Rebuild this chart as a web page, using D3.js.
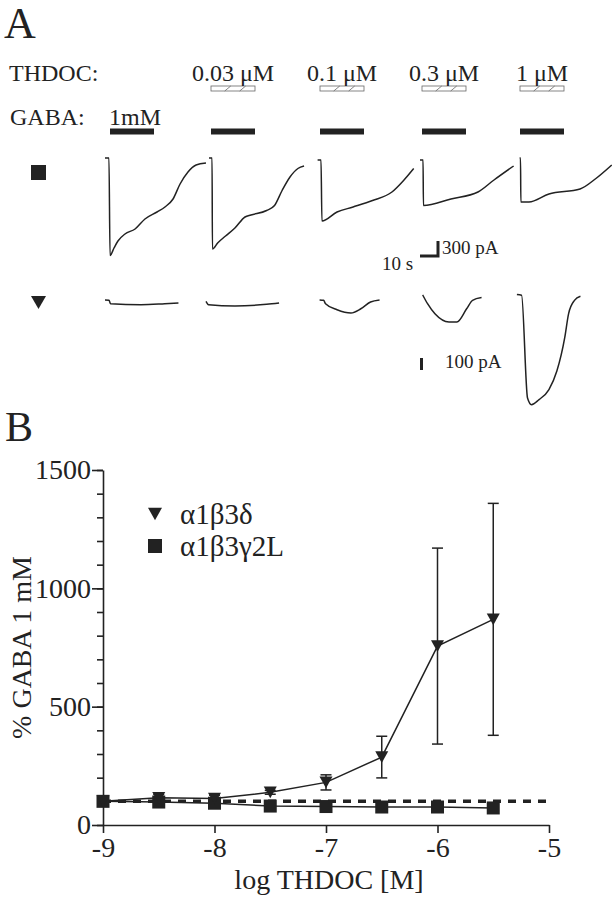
<!DOCTYPE html>
<html>
<head>
<meta charset="utf-8">
<script src="https://cdn.jsdelivr.net/npm/d3@7"></script>
<style>
  html, body { margin: 0; padding: 0; background: #fff; }
  svg { display: block; }
  text { font-family: "Liberation Serif", "Times New Roman", serif; fill: #222; }
  .axis path, .axis line { stroke: #222; stroke-width: 1.6; }
</style>
</head>
<body>
<div id="chart"></div>
<script>
// ---- data: panel A ----
const thdocLabels = ['', '0.03 \u03bcM', '0.1 \u03bcM', '0.3 \u03bcM', '1 \u03bcM'];
const gabaLabel = '1mM';

// square (a1b3g2L) sweeps: [time s, current pA]
const sqTraces = [
  [[0,0],[2.2,0],[2.8,-1950],[5,-1800],[7.2,-1660],[11.1,-1520],[16.7,-1420],[22.2,-1220],[28.9,-1080],[33.3,-980],[37.8,-820],[41.7,-520],[46.1,-280],[50.6,-140],[56.1,-100]],
  [[0,0],[1.7,0],[1.9,-1820],[4.8,-1700],[9.2,-1560],[14.4,-1400],[20,-1180],[23.3,-1140],[32,-1050],[36.4,-950],[40.6,-650],[45,-380],[49.4,-210],[52.8,-160]],
  [[0,-40],[1.9,-40],[2.4,-1260],[10.8,-1080],[19.7,-980],[30.5,-850],[41.3,-680],[48,-440],[53.4,-210]],
  [[0,-40],[1.7,-40],[1.9,-950],[17.2,-820],[32.2,-680],[41.1,-440],[52,-160]],
  [[0,0],[0.5,0],[0.7,-880],[5.2,-880],[16.3,-720],[33.6,-620],[42.4,-410],[51.2,-140]]
];
// triangle (a1b3d) sweeps
const triTraces = [
  [[0,0],[2.2,-2],[3.1,-31],[20,-39],[33.2,-31],[40.8,-25]],
  [[0,-11],[1.4,-39],[16.1,-50],[33.7,-36],[40.6,-25]],
  [[0,0],[2.2,-3],[3.3,-31],[9.7,-81],[17.4,-108],[22.9,-73],[28.3,-17],[33.3,0]],
  [[0,42],[2.7,-31],[6.8,-115],[14.6,-183],[19,-183],[24.4,-73],[27.7,-3],[32.7,20]],
  [[0,45],[2.6,39],[5.9,-817],[8.1,-872],[12.3,-830],[17.8,-746],[22.2,-592],[26.6,-311],[28.7,-115],[32,-3],[35.3,31]]
];

// ---- data: panel B ----
const logConc = [-9, -8.5, -8, -7.5, -7, -6.5, -6, -5.5];
const deltaMean = [100, 115, 112, 138, 180, 287, 756, 869];
const deltaErr = [0, 14, 14, 8, 32, 88, 414, 490];
const gammaMean = [100, 97, 92, 80, 78, 76, 76, 72];
const legendNames = ['\u03b11\u03b23\u03b4', '\u03b11\u03b23\u03b32L'];
const xTicks = [-9, -8, -7, -6, -5];
const yTicks = [0, 500, 1000, 1500];

// ---- layout ----
const W = 612, H = 900;
const svg = d3.select('#chart').append('svg').attr('width', W).attr('height', H);
const ink = '#222';

// Panel A
svg.append('text').attr('x', 4).attr('y', 38).attr('font-size', 44).text('A');
svg.append('text').attr('x', 9).attr('y', 81).attr('font-size', 24).text('THDOC:');
svg.append('text').attr('x', 10).attr('y', 125).attr('font-size', 24).text('GABA:');

const sweepX1 = [105, 209, 317.6, 420, 519.6];
const sweepX2 = [105, 206, 319.6, 422.7, 516.9];
const barX = [110, 211, 320, 422, 520];
const barW = 44;

barX.forEach((bx, i) => {
  // GABA bar
  svg.append('rect').attr('x', bx).attr('y', 128.5).attr('width', barW).attr('height', 6).attr('fill', ink);
  if (i === 0) return;
  // THDOC hatched box
  const hb = svg.append('g').attr('transform', `translate(${bx},86)`);
  hb.append('rect').attr('width', barW).attr('height', 5).attr('fill', '#fff')
    .attr('stroke', '#666').attr('stroke-width', 0.8);
  [0.38, 0.72].forEach(f => {
    hb.append('line').attr('x1', barW * f - 3).attr('y1', 5).attr('x2', barW * f + 3).attr('y2', 0)
      .attr('stroke', '#666').attr('stroke-width', 0.8);
  });
  svg.append('text').attr('x', bx + barW / 2).attr('y', 81).attr('font-size', 24)
    .attr('text-anchor', 'middle').text(thdocLabels[i]);
});
svg.append('text').attr('x', 109).attr('y', 125).attr('font-size', 24).text(gabaLabel);

// trace scales
const tScale = d3.scaleLinear().domain([0, 10]).range([0, 18]);
const iScale1 = d3.scaleLinear().domain([0, -300]).range([0, 15]);
const iScale2 = d3.scaleLinear().domain([0, -100]).range([0, 12]);

function drawRow(traces, xs, baseY, iScale) {
  const line = d3.line().x(d => tScale(d[0])).y(d => iScale(d[1])).curve(d3.curveMonotoneX);
  traces.forEach((tr, i) => {
    svg.append('path').attr('transform', `translate(${xs[i]},${baseY})`)
      .attr('d', line(tr)).attr('fill', 'none').attr('stroke', ink).attr('stroke-width', 1.5);
  });
}
drawRow(sqTraces, sweepX1, 158, iScale1);
drawRow(triTraces, sweepX2, 300, iScale2);

// row markers
svg.append('rect').attr('x', 31).attr('y', 165).attr('width', 15).attr('height', 15).attr('fill', ink);
svg.append('path').attr('d', 'M31,296 L46,296 L38.5,309 Z').attr('fill', ink);

// scale bars
const sb1 = svg.append('g').attr('transform', 'translate(420,256)');
sb1.append('path').attr('d', `M0,0 H${tScale(10)} V${-iScale1(-300)}`)
  .attr('fill', 'none').attr('stroke', ink).attr('stroke-width', 3);
svg.append('text').attr('x', 382).attr('y', 270).attr('font-size', 19).text('10 s');
svg.append('text').attr('x', 442).attr('y', 254).attr('font-size', 19).text('300 pA');

svg.append('line').attr('x1', 421.5).attr('x2', 421.5).attr('y1', 370).attr('y2', 370 - iScale2(-100))
  .attr('stroke', ink).attr('stroke-width', 3);
svg.append('text').attr('x', 445).attr('y', 368).attr('font-size', 19).text('100 pA');

// Panel B
svg.append('text').attr('x', 5).attr('y', 441).attr('font-size', 42).text('B');

const x = d3.scaleLinear().domain([-9, -5]).range([103, 549]);
const y = d3.scaleLinear().domain([0, 1500]).range([825, 470]);

const xAxis = svg.append('g').attr('class', 'axis').attr('transform', `translate(0,${y(0)})`)
  .call(d3.axisBottom(x).tickValues(xTicks).tickSize(8).tickSizeOuter(0).tickFormat(d => String(d)));
xAxis.selectAll('text').attr('font-size', 28).attr('dy', '0.76em');

svg.append('g').attr('class', 'axis').attr('transform', `translate(${x(-9)},0)`)
  .call(d3.axisLeft(y).tickValues(d3.range(0, 1501, 100)).tickSize(6).tickSizeOuter(0).tickFormat(''));
const yAxis = svg.append('g').attr('class', 'axis').attr('transform', `translate(${x(-9)},0)`)
  .call(d3.axisLeft(y).tickValues(yTicks).tickSize(11).tickSizeOuter(0).tickFormat(d => String(d)));
yAxis.select('.domain').remove();
yAxis.selectAll('text').attr('font-size', 28).attr('x', -12);
svg.selectAll('.axis text').attr('font-family', '"Liberation Serif", "Times New Roman", serif').attr('fill', ink);

svg.append('text').attr('transform', `translate(31,${y(750)}) rotate(-90)`)
  .attr('text-anchor', 'middle').attr('font-size', 28).text('% GABA 1 mM');
svg.append('text').attr('x', (x(-9) + x(-5)) / 2 + 3).attr('y', 889)
  .attr('text-anchor', 'middle').attr('font-size', 28).text('log THDOC [M]');

// dashed reference at 100 %
svg.append('line').attr('x1', x(-9)).attr('x2', x(-5)).attr('y1', y(100)).attr('y2', y(100))
  .attr('stroke', ink).attr('stroke-width', 3.5).attr('stroke-dasharray', '8,7');

const lineG = d3.line().x((d, i) => x(logConc[i])).y(d => y(d));
svg.append('path').attr('d', lineG(gammaMean)).attr('fill', 'none').attr('stroke', ink).attr('stroke-width', 1.5);
svg.append('path').attr('d', lineG(deltaMean)).attr('fill', 'none').attr('stroke', ink).attr('stroke-width', 1.5);

// error bars (delta)
deltaMean.forEach((m, i) => {
  if (!deltaErr[i]) return;
  const cx = x(logConc[i]);
  const g = svg.append('g').attr('stroke', ink).attr('stroke-width', 1.5);
  g.append('line').attr('x1', cx).attr('x2', cx).attr('y1', y(m - deltaErr[i])).attr('y2', y(m + deltaErr[i]));
  [m - deltaErr[i], m + deltaErr[i]].forEach(v => {
    g.append('line').attr('x1', cx - 5.5).attr('x2', cx + 5.5).attr('y1', y(v)).attr('y2', y(v));
  });
});

const tri = (cx, cy, s) => `M${cx - s / 2},${cy - s * 0.45} L${cx + s / 2},${cy - s * 0.45} L${cx},${cy + s * 0.45} Z`;
gammaMean.forEach((v, i) => {
  svg.append('rect').attr('x', x(logConc[i]) - 6.5).attr('y', y(v) - 6.5).attr('width', 13).attr('height', 13).attr('fill', ink);
});
deltaMean.forEach((v, i) => {
  svg.append('path').attr('d', tri(x(logConc[i]), y(v), 13)).attr('fill', ink);
});

// legend
svg.append('path').attr('d', tri(155, 514, 14)).attr('fill', ink);
svg.append('text').attr('x', 180).attr('y', 524).attr('font-size', 29).text(legendNames[0]);
svg.append('rect').attr('x', 148).attr('y', 539).attr('width', 14).attr('height', 14).attr('fill', ink);
svg.append('text').attr('x', 180).attr('y', 556).attr('font-size', 29).text(legendNames[1]);
</script>
</body>
</html>
